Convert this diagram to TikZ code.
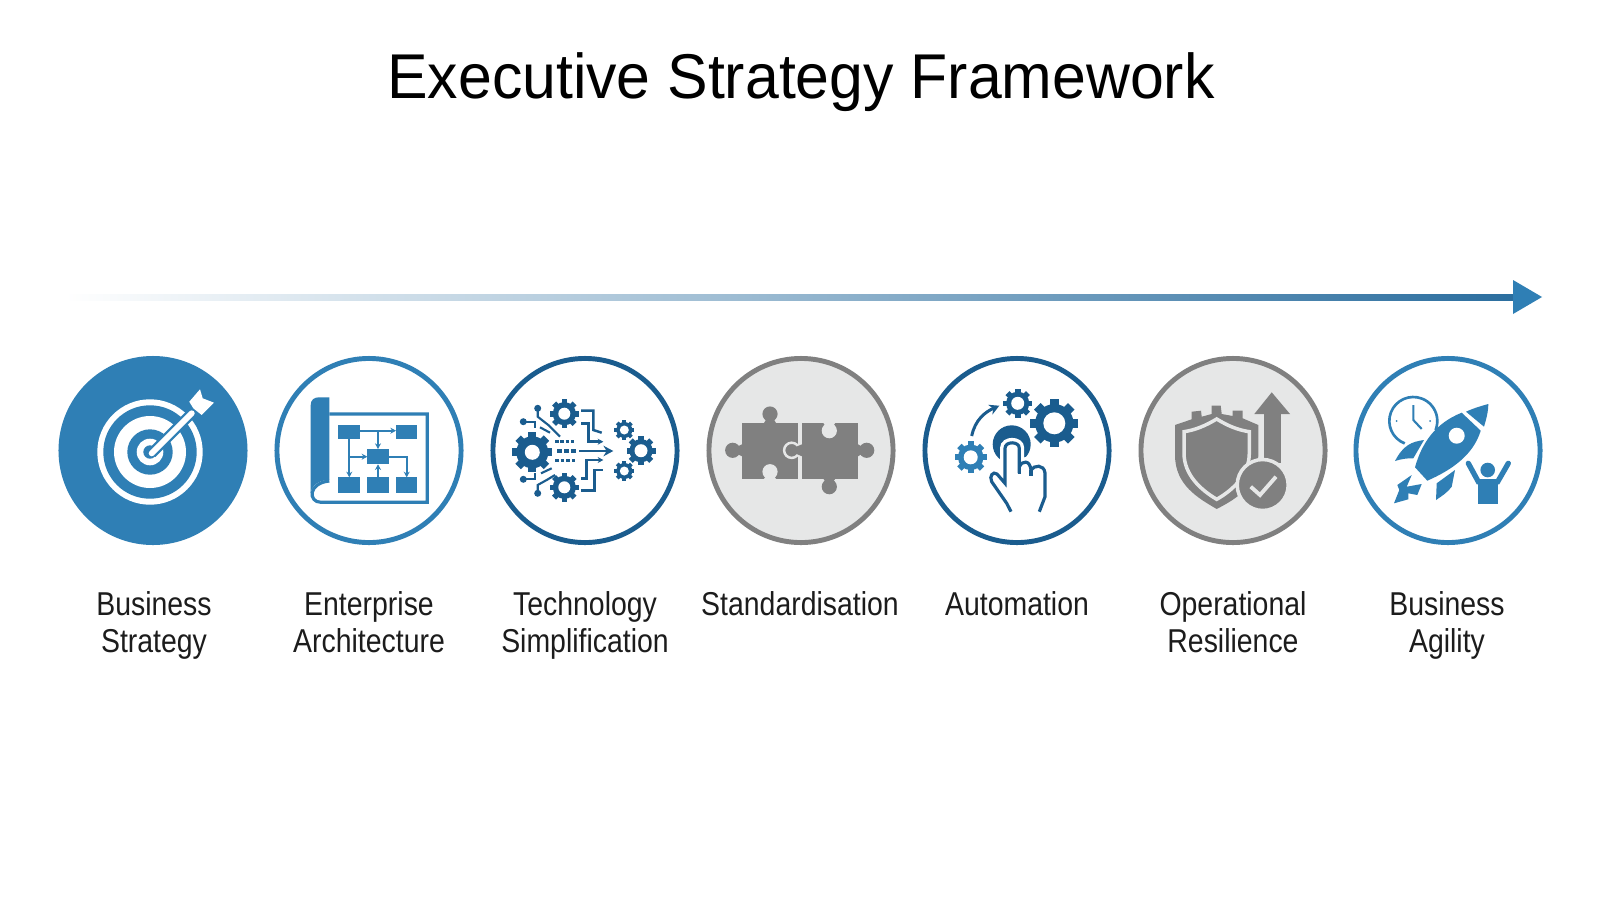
\documentclass[tikz,border=0pt]{standalone}
\usepackage{fontspec}
\setmainfont{Liberation Sans}
\newfontfamily\labelfont[FakeStretch=0.86]{Liberation Sans}
\newfontfamily\titlefont[FakeStretch=0.96]{Liberation Sans}
\usetikzlibrary{arrows.meta,calc}
\definecolor{flowblue}{HTML}{2F7FB5}
\definecolor{flowmid}{HTML}{86AFCE}
\definecolor{flowdark}{HTML}{2B6E9F}
\definecolor{deepblue}{HTML}{1A5C8E}
\definecolor{ringgrey}{HTML}{808080}
\definecolor{diskgrey}{HTML}{E6E7E7}
\definecolor{inkgrey}{HTML}{1C1C1C}
\tikzset{
  solidring/.style={circle,inner sep=0pt,minimum size=1.84cm,draw=flowblue,fill=flowblue,line width=1.4pt},
  bluering/.style={circle,inner sep=0pt,minimum size=1.84cm,draw=flowblue,fill=white,line width=1.4pt},
  deepring/.style={circle,inner sep=0pt,minimum size=1.84cm,draw=deepblue,fill=white,line width=1.4pt},
  greyring/.style={circle,inner sep=0pt,minimum size=1.84cm,draw=ringgrey,fill=diskgrey,line width=1.4pt},
  steplabel/.style={anchor=base,align=center,text=inkgrey,font=\labelfont\fontsize{9.4pt}{10.5pt}\selectfont},
  tinytip/.style={-{Stealth[length=1.6pt,width=1.7pt]}},
  midtip/.style={-{Stealth[length=2.8pt,width=3pt]}},
}
\newcommand{\gearicon}[5]{%
  \begin{scope}[shift={(#1,#2)}]
  \fill[#5] (0,0) circle ({0.8*#3});
  \foreach \a in {0,45,...,315}
    \draw[#5,line width=0.11*#3 pt] (0,0)--(\a:#3);
  \fill[white] (0,0) circle (#4);
  \end{scope}}

\begin{document}
\begin{tikzpicture}[x=0.01cm,y=-0.01cm]
\useasboundingbox[fill=white] (0,0) rectangle (1600,900);
\node[anchor=base,text=black,font=\titlefont\fontsize{18pt}{20pt}\selectfont] (title) at (801,98) {Executive Strategy Framework};
% arrow
\coordinate (flowstart) at (65,297);
\coordinate (flowend) at (1513,297);
\coordinate (flowtip) at (1542,297);
\shade[left color=white,middle color=flowmid,right color=flowdark] ($(flowstart)+(0,-3)$) rectangle ($(flowend)+(0,3)$);
\fill[flowblue] ($(flowend)+(0,-17)$) -- (flowtip) -- ($(flowend)+(0,17)$) -- cycle;
% circles
\node[solidring] (strategy) at (153,450.5) {};
\node[bluering] (architecture) at (369,450.5) {};
\node[deepring] (simplification) at (585,450.5) {};
\node[greyring] (standard) at (801,450.5) {};
\node[deepring] (automation) at (1017,450.5) {};
\node[greyring] (resilience) at (1233,450.5) {};
\node[bluering] (agility) at (1448,450.5) {};
% labels
\node[steplabel] (lstrategy) at (154,652) {Business\\Strategy};
\node[steplabel] (larchitecture) at (369,652) {Enterprise\\Architecture};
\node[steplabel] (lsimplification) at (585,652) {Technology\\Simplification};
\node[steplabel] (lstandard) at (800,615) {Standardisation};
\node[steplabel] (lautomation) at (1017,615) {Automation};
\node[steplabel] (lresilience) at (1233,652) {Operational\\Resilience};
\node[steplabel] (lagility) at (1447,652) {Business\\Agility};
% target
\begin{scope}[shift={(153,450)}]
\fill[white] (-3,2) circle (52.7);
\fill[flowblue] (-3,2) circle (46.7);
\fill[white] (-3,2) circle (36);
\fill[flowblue] (-3,2) circle (22.7);
\fill[white] (-3,2) circle (13.3);
\fill[flowblue] (-3,2) circle (6.7);
\draw[flowblue,line width=3pt] (-1.3,3.3)--(38.7,-36.7);
\draw[white,line width=1.7pt,line cap=round] (-1.3,3.3)--(38.7,-36.7);
\fill[white] (36.3,-48.3)--(47,-60.7)--(49.7,-51.7)--(61,-47.3)--(48.7,-35)--(40.3,-41.7)--cycle;
\end{scope}
% blueprint
\begin{scope}[shift={(369,450)}]
\fill[flowblue] (-58.3,-45) .. controls (-58.3,-50) and (-55,-52.7) .. (-50,-52.7) -- (-39.7,-52.7) -- (-39.7,30) .. controls (-50,30) and (-57,35) .. (-58.3,43) -- cycle;
\draw[flowblue,line width=0.9pt] (-39.7,-36) -- (58.3,-36) -- (58.3,52.3) -- (-48,52.3) .. controls (-61,52.3) and (-61,33) .. (-39.7,31);
\fill[flowblue] (-30.7,-25.3) rectangle (-9,-10.7);
\fill[flowblue] (27,-25.3) rectangle (48.3,-10.7);
\fill[flowblue] (-1.7,-1) rectangle (19.7,14.3);
\fill[flowblue] (-30.7,27.3) rectangle (-9,42.7);
\fill[flowblue] (-1.7,27.3) rectangle (19.7,42.7);
\fill[flowblue] (27,27.3) rectangle (48.3,42.7);
\draw[flowblue,line width=0.5pt,tinytip] (-9,-19.3)--(27,-19.3);
\draw[flowblue,line width=0.5pt,tinytip] (9,-19.3)--(9,-1);
\draw[flowblue,line width=0.5pt,tinytip] (-19.7,-10.7)--(-19.7,27.3);
\draw[flowblue,line width=0.5pt,tinytip] (-19.7,6.7)--(-1.7,6.7);
\draw[flowblue,line width=0.5pt,tinytip] (19.7,6.7)--(37.7,6.7)--(37.7,27.3);
\draw[flowblue,line width=0.5pt,tinytip] (9,27.3)--(9,14.3);
\end{scope}
% gears and circuit
\begin{scope}[shift={(585,450)}]
\gearicon{-52.7}{2.3}{20}{7.5}{deepblue}
\gearicon{-20.7}{-36.3}{14.5}{6}{deepblue}
\gearicon{-20.7}{37.3}{14.5}{6}{deepblue}
\gearicon{39.3}{-20}{10}{4.5}{deepblue}
\gearicon{56}{0.7}{14.5}{6.5}{deepblue}
\gearicon{39.3}{21}{10}{4.5}{deepblue}
\fill[deepblue] (-47.3,-41.7) circle (3.5);
\fill[deepblue] (-61.7,-28.3) circle (3.5);
\fill[deepblue] (-61.7,29.3) circle (3.5);
\fill[deepblue] (-47.3,43.3) circle (3.5);
\draw[deepblue,line width=0.6pt] (-47.3,-41.7)--(-47.3,-33.3)--(-36.7,-25)--(-30,-18.3)--(-25,-13.3);
\draw[deepblue,line width=0.6pt] (-61.7,-28.3)--(-50,-28.3)--(-50,-21.7);
\draw[deepblue,line width=0.6pt] (-45,-22.7)--(-35,-17.3);
\draw[deepblue,line width=0.6pt] (-61.7,29.3)--(-50,29.3)--(-50,23.3);
\draw[deepblue,line width=0.6pt] (-47.3,43.3)--(-47.3,35)--(-38.3,30)--(-30,25);
\draw[deepblue,line width=0.6pt] (-44,23.3)--(-33.3,18.3);
\draw[deepblue,line width=1pt,dash pattern=on 1pt off 0.5pt] (-30,-8.3)--(-9,-8.3);
\draw[deepblue,line width=1pt,dash pattern=on 1.5pt off 0.5pt] (-28,1)--(-9,1);
\draw[deepblue,line width=1pt,dash pattern=on 1pt off 0.6pt] (-30,10.7)--(-9,10.7);
\draw[deepblue,line width=0.7pt,midtip] (-6,1)--(28.3,1);
\draw[deepblue,line width=0.7pt] (-4,-39.3)--(8.3,-39.3)--(8.3,-20)--(16.7,-17.3);
\draw[deepblue,line width=0.7pt,tinytip] (-4,-26.7)--(3.3,-26.7)--(3.3,-8.3)--(18.3,-8.3);
\draw[deepblue,line width=0.7pt,tinytip] (-4,28.3)--(1.7,28.3)--(1.7,10)--(18.3,10);
\draw[deepblue,line width=0.7pt] (-4,40.7)--(9.3,40.7)--(9.3,20)--(18.3,20);
\end{scope}
% puzzle
\begin{scope}[shift={(801,450)}]
\fill[ringgrey] (-59.3,-27.3) rectangle (-2.7,28.7);
\fill[ringgrey] (-31,-36) circle (7.6);
\fill[ringgrey] (-34,-32) -- (-28,-32) -- (-25,-27) -- (-37,-27) -- cycle;
\fill[ringgrey] (-68.3,0.3) circle (7.6);
\fill[ringgrey] (-65,-2.7) -- (-65,3.3) -- (-59,6.3) -- (-59,-5.7) -- cycle;
\fill[diskgrey] (-31,21.7) circle (7.6);
\fill[diskgrey] (-34,25) -- (-28,25) -- (-24.5,29.5) -- (-37.5,29.5) -- cycle;
\draw[diskgrey,fill=ringgrey,line width=0.7pt] (-9.3,0.3) circle (7.6);
\fill[ringgrey] (0.7,-27.3) rectangle (57.3,28.7);
\fill[ringgrey] (-6,-2.7) -- (-6,3.3) -- (1,6.3) -- (1,-5.7) -- cycle;
\fill[diskgrey] (28.3,-19.3) circle (7.6);
\fill[diskgrey] (25.3,-23) -- (31.3,-23) -- (34.8,-27.8) -- (21.8,-27.8) -- cycle;
\fill[ringgrey] (65.7,0.3) circle (7.6);
\fill[ringgrey] (62,-2.7) -- (62,3.3) -- (57,6.3) -- (57,-5.7) -- cycle;
\fill[ringgrey] (28.3,36.7) circle (7.6);
\fill[ringgrey] (25.3,33) -- (31.3,33) -- (34.8,28) -- (21.8,28) -- cycle;
\end{scope}
% hand and gears
\begin{scope}[shift={(1017,450)}]
\gearicon{37.3}{-26.7}{24}{11}{deepblue}
\gearicon{0.7}{-46.7}{14.5}{6.5}{deepblue}
\gearicon{-46.3}{7.3}{16}{7}{flowblue}
\draw[deepblue,line width=0.85pt,midtip] (-45.3,-14) .. controls (-42,-30) and (-32,-38) .. (-17.7,-44.3);
\fill[deepblue] (-5.3,-5.7) circle (19);
\draw[deepblue,line width=0.9pt,fill=white,preaction={draw=white,line width=2.8pt}] (-6,61.7) -- (-10.3,53.3) -- (-25.3,31.7) .. controls (-28,26) and (-24,21) .. (-20,24) -- (-12,33.3) -- (-12,-1.7) .. controls (-12,-9) and (2.3,-9) .. (2.3,-1.7) -- (2.3,17) .. controls (5,10) and (13,10) .. (14,20) .. controls (17,15) and (27,14) .. (28,23) -- (28,46.7) -- (22.3,61.7);
\draw[deepblue,line width=0.9pt] (2.3,17)--(2.3,24);
\draw[deepblue,line width=0.9pt] (14,20)--(14,26);
\end{scope}
% shield
\begin{scope}[shift={(1233,450)}]
\fill[ringgrey] (-58,-25)--(-41.3,-30.7)--(-41.3,-38.3)--(-32,-39.3)--(-31.3,-33.3)--(-21.3,-36)--(-21.3,-44.3)--(-12.3,-44.3)--(-11.3,-36)--(-0.3,-34)--(-0.3,-39.3)--(9.7,-39.3)--(9.7,-31.7)--(25.3,-25)--(25.3,5) .. controls (25.3,35) and (5,48) .. (-16.3,59) .. controls (-35,48) and (-58,35) .. (-58,5) -- cycle;
\draw[diskgrey,fill=ringgrey,line width=1pt] (-16.3,-31) .. controls (-28,-24) and (-38,-20) .. (-49,-18.3) -- (-49,3) .. controls (-49,25) and (-32,40) .. (-16.3,49.3) .. controls (0,40) and (16.3,25) .. (16.3,3) -- (16.3,-18.3) .. controls (5,-20) and (-5,-24) .. cycle;
\fill[diskgrey] (26.5,-36) rectangle (31,20);
\fill[ringgrey] (31,-36) rectangle (47.7,13.3);
\fill[ringgrey] (21.3,-36)--(38.7,-57.7)--(57,-36)--cycle;
\draw[diskgrey,fill=ringgrey,line width=1pt] (29.7,35) circle (25.5);
\draw[diskgrey,line width=1.1pt] (17.7,36.7)--(27,45)--(43,26.7);
\end{scope}
% rocket
\begin{scope}[shift={(1448,450)}]
\draw[flowblue,line width=0.75pt] (-34.7,-29) ++(111:24) arc[start angle=111,end angle=382,radius=24];
\draw[flowblue,line width=0.6pt] (-34.7,-45)--(-34.7,-30)--(-26.3,-21);
\fill[flowblue] (-51.3,-29) circle (1);
\fill[flowblue] (-18,-29) circle (1);
\fill[flowblue] (13.7,-37.3) .. controls (-13,-26.7) and (-26.3,-6.7) .. (-33,17.3) -- (-20.7,30.7) .. controls (3.7,20) and (25.3,5) .. (32.7,-19.3) -- cycle;
\fill[white] (8.7,-14.3) circle (8);
\fill[flowblue] (18,-38.3) .. controls (25.3,-41.7) and (33,-44) .. (40.3,-46) .. controls (40.3,-38) and (38,-30) .. (36,-23.3) -- cycle;
\fill[flowblue] (-53,11) .. controls (-44.7,-5) and (-36.3,-8.3) .. (-24,-10) -- (-34.7,8.3) .. controls (-40,8) and (-47,9) .. (-53,11) -- cycle;
\fill[flowblue] (-12,50) -- (-11.3,33.3) -- (7,20) -- (3.7,36.7) .. controls (0,42) and (-6,46) .. (-12,50) -- cycle;
\fill[flowblue] (-54,53.3)--(-48.7,40)--(-50.7,35)--(-36.3,25)--(-41.3,36.7)--(-26.3,34)--(-30.7,45)--(-39.7,43.3)--(-39.7,49.3)--cycle;
\fill[flowblue] (39.7,20) circle (7.3);
\draw[flowblue,line width=1.5pt,line cap=round] (20.3,13.3)--(30.3,31.7)--(49.7,31.7)--(60.3,13.3);
\fill[flowblue] (29.7,31) rectangle (49.7,54);
\end{scope}
\end{tikzpicture}
\end{document}
